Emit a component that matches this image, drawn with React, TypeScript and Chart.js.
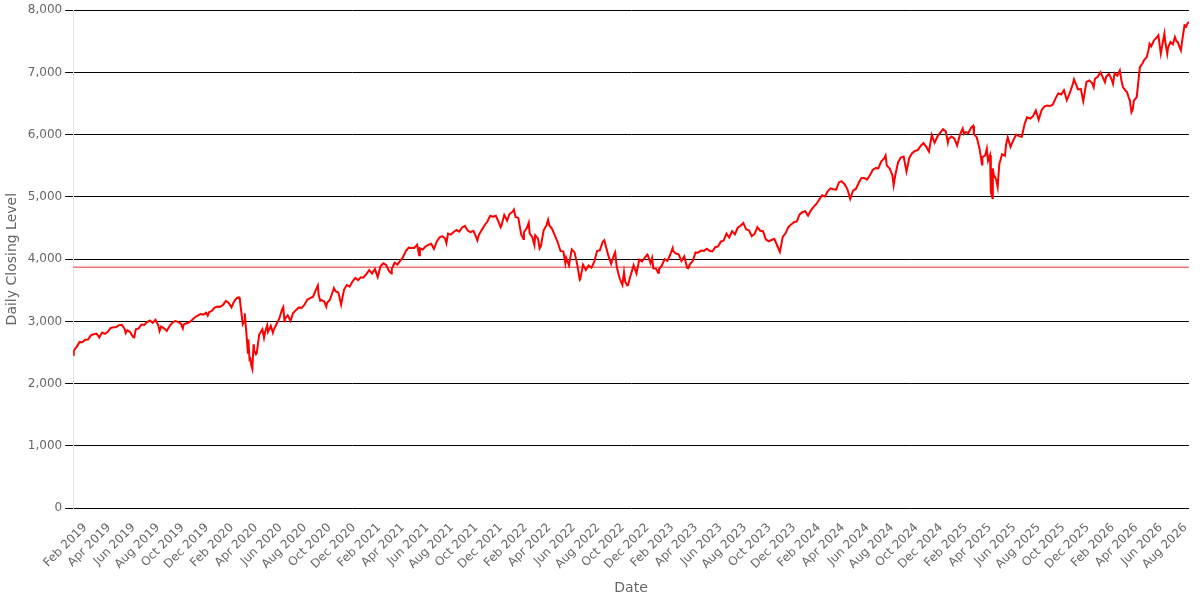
import { useEffect, useRef } from 'react';
import { Chart, registerables } from 'chart.js';

Chart.register(...registerables);

const MONTHS = ['Jan', 'Feb', 'Mar', 'Apr', 'May', 'Jun', 'Jul', 'Aug', 'Sep', 'Oct', 'Nov', 'Dec'];

// Closing levels, roughly weekly plus a few daily extremes
const closes2019: [string, number][] = [
  ['01-02', 2510], ['01-03', 2447], ['01-04', 2532], ['01-11', 2596], ['01-18', 2671], ['01-25', 2665],
  ['02-01', 2707], ['02-08', 2708], ['02-15', 2776], ['02-22', 2793], ['03-01', 2804], ['03-08', 2743],
  ['03-15', 2822], ['03-22', 2801], ['03-29', 2834], ['04-05', 2893], ['04-12', 2907], ['04-18', 2905],
  ['04-26', 2940], ['05-03', 2946], ['05-10', 2881], ['05-13', 2812], ['05-17', 2860], ['05-24', 2826],
  ['05-31', 2752], ['06-03', 2744], ['06-07', 2873], ['06-14', 2887], ['06-21', 2950], ['06-28', 2942],
  ['07-05', 2990], ['07-12', 3014], ['07-19', 2977], ['07-26', 3026], ['08-02', 2932], ['08-05', 2845],
  ['08-09', 2919], ['08-16', 2889], ['08-23', 2847], ['08-30', 2926], ['09-06', 2979], ['09-13', 3007],
  ['09-20', 2992], ['09-27', 2962], ['10-02', 2887], ['10-04', 2952], ['10-11', 2970], ['10-18', 2986],
  ['10-25', 3023], ['11-01', 3067], ['11-08', 3093], ['11-15', 3120], ['11-22', 3110], ['11-29', 3141],
  ['12-03', 3093], ['12-06', 3146], ['12-13', 3169], ['12-20', 3221], ['12-27', 3240], ['12-31', 3231],
];

const closes2020: [string, number][] = [
  ['01-03', 3235], ['01-10', 3265], ['01-17', 3330], ['01-24', 3295], ['01-31', 3226], ['02-07', 3328],
  ['02-14', 3380], ['02-19', 3386], ['02-21', 3338], ['02-25', 3128], ['02-28', 2954], ['03-03', 3003],
  ['03-04', 3130], ['03-06', 2972], ['03-09', 2747], ['03-12', 2481], ['03-13', 2711], ['03-16', 2386],
  ['03-18', 2398], ['03-20', 2305], ['03-23', 2237], ['03-26', 2631], ['03-27', 2541], ['04-01', 2471],
  ['04-03', 2489], ['04-09', 2790], ['04-17', 2875], ['04-21', 2737], ['04-24', 2837], ['04-29', 2940],
  ['05-01', 2831], ['05-08', 2930], ['05-13', 2820], ['05-15', 2864], ['05-22', 2955], ['05-29', 3044],
  ['06-05', 3194], ['06-08', 3232], ['06-11', 3002], ['06-12', 3041], ['06-19', 3098], ['06-26', 3009],
  ['07-02', 3130], ['07-10', 3185], ['07-17', 3225], ['07-24', 3216], ['07-31', 3271], ['08-07', 3351],
  ['08-14', 3373], ['08-21', 3397], ['08-28', 3508], ['09-02', 3580], ['09-04', 3427], ['09-08', 3332],
  ['09-11', 3341], ['09-18', 3319], ['09-23', 3237], ['09-25', 3298], ['10-02', 3348], ['10-09', 3477],
  ['10-12', 3535], ['10-16', 3484], ['10-23', 3465], ['10-30', 3270], ['11-06', 3509], ['11-13', 3585],
  ['11-20', 3558], ['11-27', 3638], ['12-04', 3699], ['12-11', 3663], ['12-18', 3709], ['12-24', 3703],
  ['12-31', 3756],
];

const closes2021: [string, number][] = [
  ['01-08', 3825], ['01-15', 3768], ['01-22', 3841], ['01-29', 3714], ['02-05', 3887], ['02-12', 3934],
  ['02-19', 3907], ['02-26', 3811], ['03-04', 3768], ['03-05', 3842], ['03-12', 3943], ['03-19', 3913],
  ['03-26', 3975], ['04-01', 4020], ['04-09', 4129], ['04-16', 4185], ['04-23', 4180], ['04-30', 4181],
  ['05-07', 4233], ['05-12', 4063], ['05-14', 4174], ['05-21', 4156], ['05-28', 4204], ['06-04', 4230],
  ['06-11', 4247], ['06-18', 4166], ['06-25', 4281], ['07-02', 4352], ['07-09', 4370], ['07-16', 4327],
  ['07-19', 4258], ['07-23', 4412], ['07-30', 4395], ['08-06', 4437], ['08-13', 4468], ['08-20', 4442],
  ['08-27', 4509], ['09-03', 4535], ['09-10', 4459], ['09-17', 4433], ['09-24', 4455], ['10-01', 4357],
  ['10-04', 4300], ['10-08', 4391], ['10-15', 4471], ['10-22', 4545], ['10-29', 4605], ['11-05', 4698],
  ['11-12', 4683], ['11-19', 4698], ['11-26', 4595], ['12-01', 4513], ['12-03', 4538], ['12-10', 4712],
  ['12-17', 4620], ['12-23', 4726], ['12-31', 4766],
];

const closes2022: [string, number][] = [
  ['01-03', 4796], ['01-07', 4677], ['01-14', 4663], ['01-21', 4398], ['01-27', 4326], ['01-28', 4432],
  ['02-04', 4501], ['02-09', 4587], ['02-11', 4419], ['02-18', 4349], ['02-23', 4226], ['02-25', 4385],
  ['03-04', 4329], ['03-08', 4171], ['03-11', 4204], ['03-18', 4463], ['03-25', 4543], ['03-29', 4632],
  ['04-01', 4546], ['04-08', 4488], ['04-14', 4393], ['04-22', 4272], ['04-29', 4132], ['05-06', 4123],
  ['05-11', 3935], ['05-13', 4023], ['05-20', 3901], ['05-27', 4158], ['06-03', 4109], ['06-10', 3901],
  ['06-16', 3667], ['06-17', 3675], ['06-24', 3912], ['07-01', 3825], ['07-08', 3899], ['07-15', 3863],
  ['07-22', 3962], ['07-29', 4130], ['08-05', 4145], ['08-12', 4280], ['08-16', 4305], ['08-19', 4228],
  ['08-26', 4057], ['09-02', 3924], ['09-09', 4067], ['09-12', 4110], ['09-16', 3873], ['09-23', 3693],
  ['09-30', 3586], ['10-04', 3791], ['10-07', 3639], ['10-12', 3577], ['10-14', 3583], ['10-21', 3752],
  ['10-28', 3901], ['11-04', 3771], ['11-11', 3993], ['11-18', 3965], ['11-25', 4026], ['12-01', 4077],
  ['12-02', 4071], ['12-09', 3934], ['12-13', 4020], ['12-16', 3852], ['12-23', 3845], ['12-28', 3783],
  ['12-30', 3840],
];

const closes2023: [string, number][] = [
  ['01-06', 3895], ['01-13', 3999], ['01-20', 3973], ['01-27', 4071], ['02-02', 4179], ['02-03', 4136],
  ['02-10', 4090], ['02-17', 4079], ['02-24', 3970], ['03-03', 4046], ['03-10', 3862], ['03-13', 3855],
  ['03-17', 3917], ['03-24', 3971], ['03-31', 4109], ['04-06', 4105], ['04-14', 4138], ['04-21', 4133],
  ['04-28', 4169], ['05-05', 4136], ['05-12', 4124], ['05-19', 4192], ['05-26', 4205], ['06-02', 4282],
  ['06-09', 4299], ['06-16', 4410], ['06-23', 4348], ['06-30', 4450], ['07-07', 4399], ['07-14', 4505],
  ['07-21', 4536], ['07-28', 4582], ['08-04', 4478], ['08-11', 4464], ['08-18', 4370], ['08-25', 4406],
  ['09-01', 4515], ['09-08', 4457], ['09-15', 4450], ['09-22', 4320], ['09-29', 4288], ['10-06', 4308],
  ['10-13', 4327], ['10-20', 4224], ['10-27', 4117], ['11-03', 4358], ['11-10', 4415], ['11-17', 4514],
  ['11-24', 4559], ['12-01', 4595], ['12-08', 4604], ['12-15', 4719], ['12-22', 4755], ['12-29', 4770],
];

const closes2024: [string, number][] = [
  ['01-05', 4697], ['01-12', 4784], ['01-19', 4840], ['01-26', 4891], ['02-02', 4959], ['02-09', 5027],
  ['02-16', 5006], ['02-23', 5089], ['03-01', 5137], ['03-08', 5124], ['03-15', 5117], ['03-22', 5234],
  ['03-28', 5254], ['04-05', 5204], ['04-12', 5123], ['04-19', 4967], ['04-26', 5100], ['05-03', 5128],
  ['05-10', 5223], ['05-17', 5303], ['05-24', 5305], ['05-31', 5278], ['06-07', 5347], ['06-14', 5432],
  ['06-21', 5465], ['06-28', 5460], ['07-05', 5567], ['07-12', 5615], ['07-16', 5667], ['07-19', 5505],
  ['07-26', 5459], ['08-02', 5347], ['08-05', 5186], ['08-09', 5344], ['08-16', 5554], ['08-23', 5634],
  ['08-30', 5648], ['09-06', 5408], ['09-13', 5626], ['09-20', 5703], ['09-27', 5738], ['10-04', 5751],
  ['10-11', 5815], ['10-18', 5864], ['10-25', 5808], ['11-01', 5729], ['11-08', 5995], ['11-15', 5870],
  ['11-22', 5969], ['11-29', 6032], ['12-06', 6090], ['12-13', 6051], ['12-18', 5872], ['12-20', 5931],
  ['12-27', 5971],
];

const closes2025: [string, number][] = [
  ['01-03', 5942], ['01-10', 5827], ['01-17', 5997], ['01-24', 6101], ['01-27', 6012], ['01-31', 6041],
  ['02-07', 6026], ['02-14', 6115], ['02-19', 6144], ['02-21', 6013], ['02-28', 5955], ['03-07', 5770],
  ['03-13', 5522], ['03-14', 5639], ['03-21', 5667], ['03-25', 5777], ['03-28', 5581], ['04-02', 5671],
  ['04-04', 5074], ['04-08', 4982], ['04-09', 5457], ['04-11', 5363], ['04-17', 5283], ['04-21', 5158],
  ['04-25', 5525], ['05-02', 5686], ['05-09', 5660], ['05-12', 5844], ['05-16', 5958], ['05-23', 5803],
  ['05-30', 5912], ['06-06', 6000], ['06-13', 5977], ['06-20', 5967], ['06-27', 6173], ['07-03', 6279],
  ['07-11', 6260], ['07-18', 6297], ['07-25', 6389], ['08-01', 6238], ['08-08', 6389], ['08-15', 6450],
  ['08-22', 6467], ['08-29', 6460], ['09-05', 6482], ['09-12', 6584], ['09-19', 6664], ['09-26', 6644],
  ['10-03', 6716], ['10-10', 6553], ['10-17', 6664], ['10-24', 6792], ['10-28', 6891], ['10-31', 6840],
  ['11-07', 6729], ['11-14', 6734], ['11-20', 6538], ['11-28', 6849], ['12-05', 6870], ['12-12', 6830],
  ['12-16', 6763], ['12-19', 6898], ['12-26', 6930],
];

const closes2026: [string, number][] = [
  ['01-02', 7005], ['01-09', 6900], ['01-13', 6844], ['01-16', 6930], ['01-23', 6978], ['01-30', 6880],
  ['02-02', 6817], ['02-06', 6989], ['02-13', 6950], ['02-19', 7032], ['02-23', 6871], ['02-27', 6760],
  ['03-02', 6737], ['03-06', 6700], ['03-09', 6683], ['03-13', 6600], ['03-16', 6548], ['03-20', 6360],
  ['03-23', 6400], ['03-26', 6548], ['04-02', 6602], ['04-06', 6850], ['04-10', 7086], ['04-17', 7150],
  ['04-20', 7194], ['04-27', 7247], ['05-01', 7350], ['05-04', 7462], ['05-08', 7420], ['05-15', 7516],
  ['05-22', 7560], ['05-26', 7597], ['06-01', 7301], ['06-05', 7450], ['06-10', 7624], ['06-12', 7500],
  ['06-17', 7301], ['06-19', 7400], ['06-25', 7489], ['07-01', 7450], ['07-06', 7570], ['07-10', 7500],
  ['07-13', 7489], ['07-17', 7420], ['07-21', 7355], ['07-24', 7500], ['07-30', 7758], ['08-03', 7740],
  ['08-06', 7785], ['08-10', 7812],
];

// horizontal reference level drawn across the whole range
const REFERENCE_LEVEL = 3870;

const X_TICK_LABELS = [
  'Feb 2019', 'Apr 2019', 'Jun 2019', 'Aug 2019', 'Oct 2019', 'Dec 2019',
  'Feb 2020', 'Apr 2020', 'Jun 2020', 'Aug 2020', 'Oct 2020', 'Dec 2020',
  'Feb 2021', 'Apr 2021', 'Jun 2021', 'Aug 2021', 'Oct 2021', 'Dec 2021',
  'Feb 2022', 'Apr 2022', 'Jun 2022', 'Aug 2022', 'Oct 2022', 'Dec 2022',
  'Feb 2023', 'Apr 2023', 'Jun 2023', 'Aug 2023', 'Oct 2023', 'Dec 2023',
  'Feb 2024', 'Apr 2024', 'Jun 2024', 'Aug 2024', 'Oct 2024', 'Dec 2024',
  'Feb 2025', 'Apr 2025', 'Jun 2025', 'Aug 2025', 'Oct 2025', 'Dec 2025',
  'Feb 2026', 'Apr 2026', 'Jun 2026', 'Aug 2026',
];

const Y_MIN = 0;
const Y_MAX = 8000;
const Y_STEP = 1000;

function toPoints(year: number, rows: [string, number][]) {
  return rows.map(([md, v]) => {
    const [m, d] = md.split('-').map(Number);
    return { x: Date.UTC(year, m - 1, d), y: v };
  });
}

const series = [
  ...toPoints(2019, closes2019),
  ...toPoints(2020, closes2020),
  ...toPoints(2021, closes2021),
  ...toPoints(2022, closes2022),
  ...toPoints(2023, closes2023),
  ...toPoints(2024, closes2024),
  ...toPoints(2025, closes2025),
  ...toPoints(2026, closes2026),
];

const xMin = series[0].x;
const xMax = series[series.length - 1].x;

const tickValues = X_TICK_LABELS.map((label) => {
  const [mon, yr] = label.split(' ');
  return Date.UTC(Number(yr), MONTHS.indexOf(mon), 1);
});

export default function App() {
  const canvasRef = useRef<HTMLCanvasElement>(null);

  useEffect(() => {
    document.body.style.margin = '0';
    const ctx = canvasRef.current?.getContext('2d');
    if (!ctx) return;

    Chart.defaults.font.family = "'DejaVu Sans', sans-serif";
    Chart.defaults.color = '#666';

    const chart = new Chart(ctx, {
      type: 'line',
      data: {
        datasets: [
          {
            label: 'Daily Closing Level',
            data: series,
            borderColor: '#ff0000',
            borderWidth: 2,
            pointRadius: 0,
            tension: 0,
            order: 1,
          },
          {
            label: 'Reference',
            data: [
              { x: xMin, y: REFERENCE_LEVEL },
              { x: xMax, y: REFERENCE_LEVEL },
            ],
            borderColor: 'rgba(235, 70, 70, 0.75)',
            borderWidth: 1.5,
            pointRadius: 0,
            order: 2,
          },
        ],
      },
      options: {
        animation: false,
        responsive: true,
        maintainAspectRatio: false,
        layout: { padding: { top: 3, right: -6, bottom: 3, left: 0 } },
        plugins: {
          legend: { display: false },
          tooltip: { enabled: false },
        },
        scales: {
          x: {
            type: 'linear',
            min: xMin,
            max: xMax,
            grid: { display: false },
            afterBuildTicks: (scale: any) => {
              scale.ticks = tickValues.map((value) => ({ value }));
            },
            ticks: {
              autoSkip: false,
              minRotation: 45,
              maxRotation: 45,
              padding: 4.5,
              font: { size: 12 },
              callback: (_v: any, i: number) => X_TICK_LABELS[i],
            },
            title: {
              display: true,
              text: 'Date',
              font: { size: 14 },
              padding: { top: 4, bottom: 0 },
            },
          },
          y: {
            min: Y_MIN,
            max: Y_MAX,
            ticks: { stepSize: Y_STEP, font: { size: 12 } },
            grid: { color: '#000000' },
            title: { display: true, text: 'Daily Closing Level', font: { size: 14 } },
          },
        },
      },
    });

    return () => chart.destroy();
  }, []);

  return (
    <div style={{ position: 'relative', width: 1200, height: 600 }}>
      <canvas ref={canvasRef} />
    </div>
  );
}
